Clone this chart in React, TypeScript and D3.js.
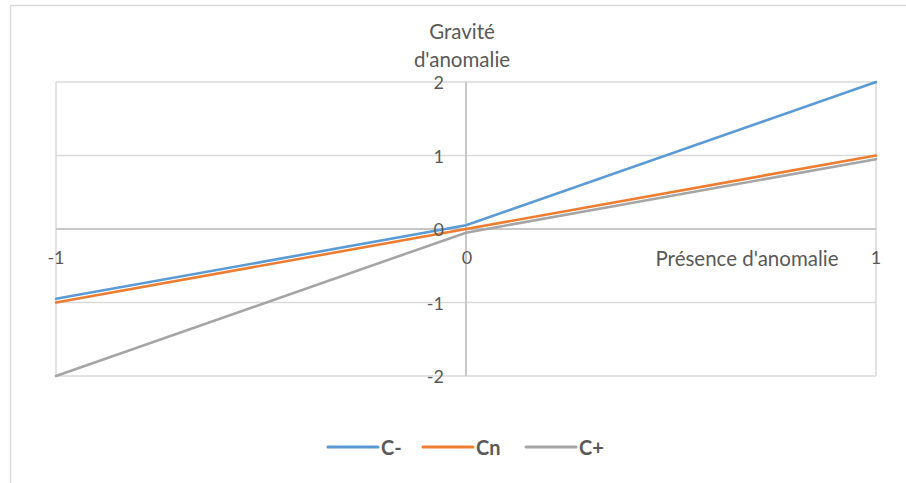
import React from "react";
import * as d3 from "d3";

const xValues = [-1, 0, 1];
const seriesNames = ["C-", "Cn", "C+"];
const cMinus = [-0.95, 0.05, 2];
const cNeutral = [-1, 0, 1];
const cPlus = [-2, -0.05, 0.95];
const xTicks = [-1, 0, 1];
const yTicks = [-2, -1, 0, 1, 2];
const colors = ["#5b9bd5", "#ed7d31", "#a5a5a5"];

const W = 906;
const H = 483;
const FONT = "Lato, 'Open Sans', sans-serif";
const TXT = "#595959";

export default function App() {
  const x = d3.scaleLinear().domain([-1, 1]).range([56, 876]);
  const y = d3.scaleLinear().domain([-2, 2]).range([376, 82]);
  const series = [cMinus, cNeutral, cPlus];
  const line = d3
    .line<number>()
    .x((_, i) => x(xValues[i]))
    .y((d) => y(d));

  const legendX = [328, 423, 526];

  return (
    <svg
      width={W}
      height={H}
      style={{ position: "absolute", left: 0, top: 0, background: "#fff" }}
      fontFamily={FONT}
    >
      <rect x={0} y={0} width={W} height={H} fill="#fff" />
      {/* outer chart border */}
      <path d={`M10.5,${H} V5.5 H${W}`} fill="none" stroke="#d9d9d9" strokeWidth={1.5} />
      {/* gridlines */}
      {yTicks.map((t) => (
        <line key={"gy" + t} x1={x(-1)} x2={x(1)} y1={y(t)} y2={y(t)} stroke="#d9d9d9" strokeWidth={1.5} />
      ))}
      {xTicks.map((t) => (
        <line key={"gx" + t} x1={x(t)} x2={x(t)} y1={y(2)} y2={y(-2)} stroke="#d9d9d9" strokeWidth={1.5} />
      ))}
      {/* axes */}
      <line x1={x(-1)} x2={x(1)} y1={y(0)} y2={y(0)} stroke="#bfbfbf" strokeWidth={1.5} />
      <line x1={x(0)} x2={x(0)} y1={y(2)} y2={y(-2)} stroke="#bfbfbf" strokeWidth={1.5} />
      {/* series */}
      {series.map((s, i) => (
        <path key={seriesNames[i]} d={line(s) || ""} fill="none" stroke={colors[i]} strokeWidth={2.6} strokeLinecap="round" />
      ))}
      {/* y tick labels */}
      {yTicks.map((t) => (
        <text key={"ly" + t} x={x(0) - 22} y={y(t)} textAnchor="end" dominantBaseline="central" fontSize={18} fill={TXT}>
          {t}
        </text>
      ))}
      {/* x tick labels */}
      {xTicks.map((t) => (
        <text key={"lx" + t} x={x(t) + (t === 0 ? 1 : 0)} y={y(0) + 28} textAnchor="middle" dominantBaseline="central" fontSize={18} fill={TXT}>
          {t}
        </text>
      ))}
      {/* axis titles */}
      <text x={462} y={31} textAnchor="middle" dominantBaseline="central" fontSize={20.5} fill={TXT}>
        Gravité
      </text>
      <text x={462} y={59} textAnchor="middle" dominantBaseline="central" fontSize={20.5} fill={TXT}>
        d'anomalie
      </text>
      <text x={747} y={258} textAnchor="middle" dominantBaseline="central" fontSize={20.5} fill={TXT}>
        Présence d'anomalie
      </text>
      {/* legend */}
      {seriesNames.map((n, i) => (
        <g key={"lg" + n}>
          <line x1={legendX[i]} x2={legendX[i] + 50} y1={447} y2={447} stroke={colors[i]} strokeWidth={3} strokeLinecap="round" />
          <text x={legendX[i] + 53} y={447} dominantBaseline="central" fontSize={20} fontWeight="bold" fill={TXT}>
            {n}
          </text>
        </g>
      ))}
    </svg>
  );
}
